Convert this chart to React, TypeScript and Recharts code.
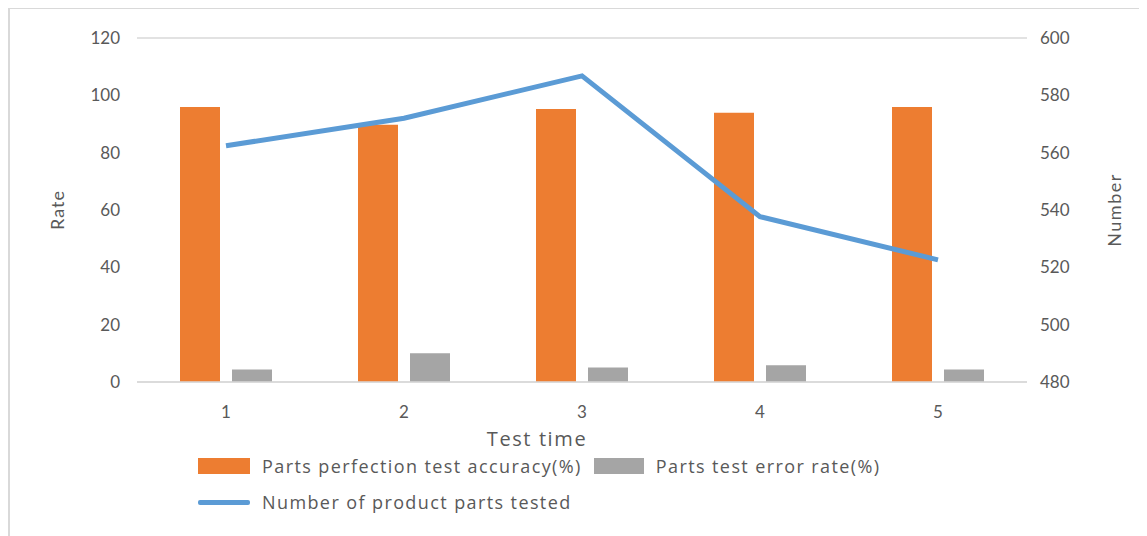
import { ComposedChart, Bar, Line, XAxis, YAxis, CartesianGrid } from 'recharts';

const categories = ['1', '2', '3', '4', '5'];
const accuracy = [95.9, 89.7, 95.2, 93.9, 95.9];
const errorRate = [4.4, 10.0, 5.1, 5.8, 4.4];
const partsTested = [562.4, 572.0, 586.8, 537.7, 522.6];
const rateTicks = [0, 20, 40, 60, 80, 100, 120];
const numberTicks = [480, 500, 520, 540, 560, 580, 600];

const seriesNames = {
  accuracy: 'Parts perfection test accuracy(%)',
  error: 'Parts test error rate(%)',
  tested: 'Number of product parts tested',
};

const data = categories.map((c, i) => ({
  time: c,
  accuracy: accuracy[i],
  error: errorRate[i],
  tested: partsTested[i],
}));

const font = 'Lato, "Open Sans", sans-serif';
const legendFont = '"Open Sans", Lato, sans-serif';
const tickStyle = { fontSize: 17, fill: '#595959', fontFamily: font };

const App = () => {
  return (
    <div style={{ position: 'relative', width: 1139, height: 528, fontFamily: font }}>
      <div
        style={{
          position: 'absolute',
          left: 0,
          top: -1,
          width: 1147,
          height: 540,
          borderTop: '2px solid #d9d9d9',
          borderLeft: '2px solid #d9d9d9',
          boxSizing: 'border-box',
        }}
      />
      <ComposedChart
        width={1131}
        height={520}
        data={data}
        margin={{ top: 30, right: 42, bottom: 106, left: 60 }}
        barGap={12}
        barCategoryGap={43}
      >
        <CartesianGrid vertical={false} stroke="#d9d9d9" strokeWidth={1.5} />
        <XAxis
          dataKey="time"
          axisLine={{ stroke: '#d9d9d9', strokeWidth: 1.5 }}
          tickLine={false}
          tickMargin={18}
          tick={tickStyle}
          height={40}
          label={{ value: 'Test time', position: 'insideBottom', offset: -24, dx: -45, style: { fontSize: 20, fill: '#595959', fontFamily: legendFont, letterSpacing: 1.6 } }}
        />
        <YAxis
          yAxisId="rate"
          domain={[0, 120]}
          ticks={rateTicks}
          axisLine={false}
          tickLine={false}
          tickMargin={11}
          width={69}
          tick={tickStyle}
          label={{ value: 'Rate', angle: -90, position: 'insideLeft', offset: -10, style: { textAnchor: 'middle', fontSize: 18, fill: '#595959', fontFamily: font, letterSpacing: 1 } }}
        />
        <YAxis
          yAxisId="num"
          orientation="right"
          domain={[480, 600]}
          ticks={numberTicks}
          axisLine={false}
          tickLine={false}
          tickMargin={7}
          width={70}
          tick={tickStyle}
          label={{ value: 'Number', angle: -90, position: 'insideRight', offset: -18, style: { textAnchor: 'middle', fontSize: 18, fill: '#595959', fontFamily: font, letterSpacing: 1.5 } }}
        />
        <Bar yAxisId="rate" dataKey="accuracy" name={seriesNames.accuracy} fill="#ED7D31" barSize={40} isAnimationActive={false} />
        <Bar yAxisId="rate" dataKey="error" name={seriesNames.error} fill="#A5A5A5" barSize={40} isAnimationActive={false} />
        <Line
          yAxisId="num"
          dataKey="tested"
          name={seriesNames.tested}
          stroke="#5B9BD5"
          strokeWidth={5}
          dot={false}
          type="linear"
          isAnimationActive={false}
        />
      </ComposedChart>
      <div style={{ position: 'absolute', left: 190, top: 447, fontSize: 18, color: '#595959', lineHeight: '22px', fontFamily: legendFont, letterSpacing: 1.4 }}>
        <div style={{ display: 'flex', alignItems: 'center', height: 22 }}>
          <span style={{ width: 52, height: 16, background: '#ED7D31', marginRight: 12, display: 'inline-block' }} />
          <span>{seriesNames.accuracy}</span>
          <span style={{ width: 50, height: 16, background: '#A5A5A5', marginLeft: 12, marginRight: 12, display: 'inline-block' }} />
          <span>{seriesNames.error}</span>
        </div>
        <div style={{ display: 'flex', alignItems: 'center', height: 22, marginTop: 14 }}>
          <span style={{ width: 52, height: 5, background: '#5B9BD5', marginRight: 12, display: 'inline-block', borderRadius: 2 }} />
          <span>{seriesNames.tested}</span>
        </div>
      </div>
    </div>
  );
};

export default App;
